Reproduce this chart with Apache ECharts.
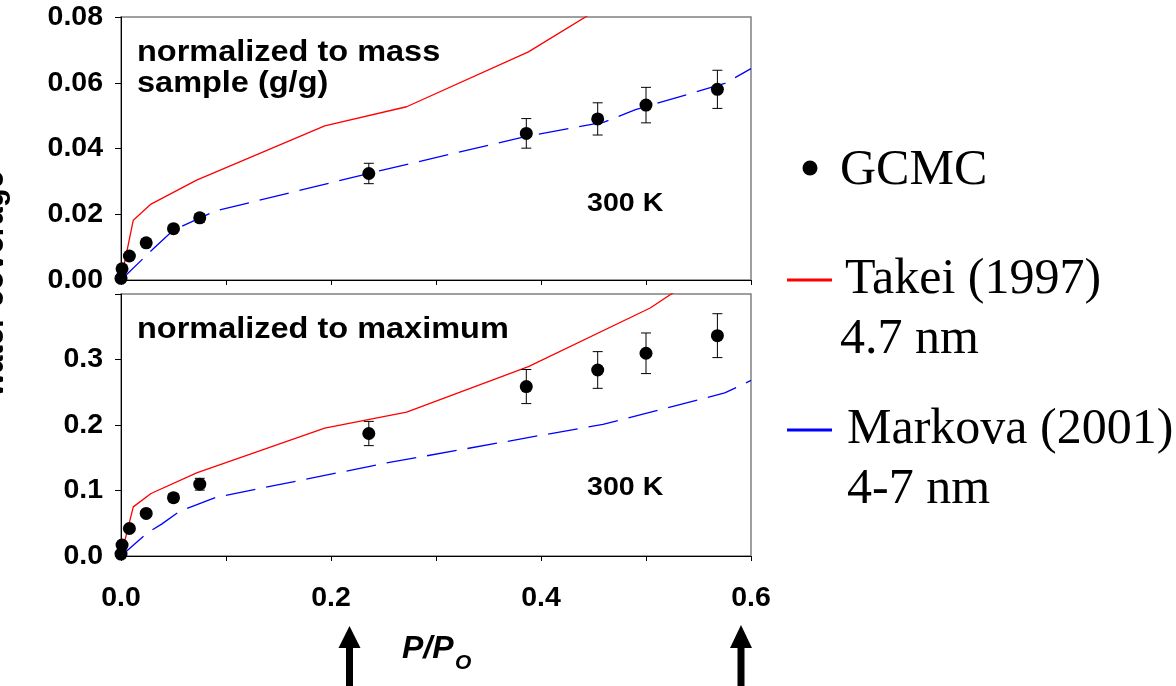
<!DOCTYPE html>
<html><head><meta charset="utf-8">
<script src="https://cdn.jsdelivr.net/npm/echarts@6/dist/echarts.min.js"></script>
<style>html,body{margin:0;padding:0;background:#fff}#c{width:1176px;height:686px}</style>
</head><body><div id="c"></div>
<script>
// ---- data ----
const gcmcX        = [0, 0.001, 0.008, 0.024, 0.05, 0.075, 0.236, 0.386, 0.454, 0.5, 0.568];
const gcmcMass     = [0.0005, 0.0034, 0.0073, 0.0113, 0.0156, 0.0189, 0.0324, 0.0446, 0.049, 0.0532, 0.058];
const gcmcMassErr  = [0, 0, 0, 0, 0.0008, 0.0013, 0.0031, 0.0045, 0.0049, 0.0054, 0.0058];
const gcmcMax      = [0.003, 0.0167, 0.042, 0.065, 0.089, 0.1096, 0.187, 0.2587, 0.284, 0.3095, 0.3364];
const gcmcMaxErr   = [0, 0, 0, 0, 0.006, 0.009, 0.0185, 0.026, 0.028, 0.031, 0.0335];

const takeiMassX   = [0, 0.0117, 0.0286, 0.072, 0.194, 0.272, 0.388, 0.45];
const takeiMass    = [0, 0.0182, 0.0231, 0.0304, 0.0469, 0.0527, 0.0694, 0.0815];
const takeiMaxX    = [0, 0.0117, 0.0286, 0.072, 0.194, 0.272, 0.388, 0.504, 0.54];
const takeiMax     = [0, 0.075, 0.0954, 0.1268, 0.1953, 0.2197, 0.289, 0.3786, 0.417];

const markovaMassX = [0, 0.031, 0.05, 0.09, 0.25, 0.386, 0.46, 0.49, 0.575, 0.6];
const markovaMass  = [0, 0.0096, 0.0152, 0.021, 0.0335, 0.0437, 0.048, 0.0518, 0.0598, 0.0643];
const markovaMaxX  = [0, 0.0244, 0.0387, 0.056, 0.091, 0.253, 0.405, 0.459, 0.575, 0.6];
const markovaMax   = [0, 0.0345, 0.0487, 0.0685, 0.0898, 0.142, 0.1857, 0.2009, 0.249, 0.268];

const xTicks = [0, 0.2, 0.4, 0.6];

// ---- helpers ----
const SANS = 'Liberation Sans, Arial, Helvetica, sans-serif';
const SERIF = 'Liberation Serif, Times New Roman, serif';
const pairs = (xs, ys) => xs.map((x, i) => [x, ys[i]]);
const errData = (xs, ys, es) => xs.map((x, i) => [x, ys[i] - es[i], ys[i] + es[i]]);

function errSeries(ai, data) {
  return {
    type: 'custom', xAxisIndex: ai, yAxisIndex: ai, z: 4, silent: true, clip: false,
    encode: { x: 0, y: [1, 2] },
    renderItem(params, api) {
      const x = api.value(0), lo = api.value(1), hi = api.value(2);
      if (!(hi - lo > 0)) return null;
      const p1 = api.coord([x, lo]), p2 = api.coord([x, hi]);
      const hw = 5, st = { stroke: '#000', lineWidth: 1 };
      return { type: 'group', children: [
        { type: 'line', shape: { x1: p1[0], y1: p1[1], x2: p2[0], y2: p2[1] }, style: st },
        { type: 'line', shape: { x1: p1[0] - hw, y1: p1[1], x2: p1[0] + hw, y2: p1[1] }, style: st },
        { type: 'line', shape: { x1: p2[0] - hw, y1: p2[1], x2: p2[0] + hw, y2: p2[1] }, style: st }
      ]};
    },
    data
  };
}

const labelStyle = { color: '#000', fontFamily: SANS, fontWeight: 'bold', fontSize: 28.5 };
const xBase = {
  type: 'value', min: 0, max: 0.6, interval: 0.1,
  splitLine: { show: false },
  axisLine: { onZero: false, lineStyle: { color: '#000', width: 1 } },
  axisTick: { inside: false, length: 5, lineStyle: { color: '#000', width: 1 } }
};
const yBase = {
  type: 'value',
  splitLine: { show: false },
  axisLine: { show: true, onZero: false, lineStyle: { color: '#000', width: 1 } },
  axisTick: { show: true, inside: false, length: 6, lineStyle: { color: '#000', width: 1 } }
};

const chart = echarts.init(document.getElementById('c'), null, { renderer: 'canvas' });

const txt = (text, x, y, size, opts = {}) => ({
  type: 'text', x, y, scaleX: opts.scaleX || 1, rotation: opts.rotation || 0, z: 10,
  style: {
    text, fontSize: size, fontFamily: opts.family || SANS,
    fontWeight: opts.weight || 'bold', fontStyle: opts.style || 'normal',
    fill: '#000', align: opts.align || 'left', verticalAlign: opts.va || 'middle'
  }
});

chart.setOption({
  animation: false,
  backgroundColor: '#fff',
  grid: [
    { left: 121, top: 17, width: 630, height: 263, show: true, borderColor: '#808080', borderWidth: 1.5, outerBoundsMode: 'none' },
    { left: 121, top: 294, width: 630, height: 262, show: true, borderColor: '#808080', borderWidth: 1.5, outerBoundsMode: 'none' }
  ],
  xAxis: [
    Object.assign({}, xBase, { gridIndex: 0, axisLabel: { show: false } }),
    Object.assign({}, xBase, { gridIndex: 1, axisLabel: Object.assign({}, labelStyle, {
      margin: 28,
      formatter: v => xTicks.some(t => Math.abs(t - v) < 1e-9) ? v.toFixed(1) : ''
    }) })
  ],
  yAxis: [
    Object.assign({}, yBase, { gridIndex: 0, min: 0, max: 0.08, interval: 0.02,
      axisLabel: Object.assign({}, labelStyle, { margin: 18, formatter: v => v.toFixed(2) }) }),
    Object.assign({}, yBase, { gridIndex: 1, min: 0, max: 0.4, interval: 0.1,
      axisLabel: Object.assign({}, labelStyle, { margin: 18, formatter: v => v > 0.35 ? '' : v.toFixed(1) }) })
  ],
  series: [
    { type: 'line', xAxisIndex: 0, yAxisIndex: 0, data: pairs(takeiMassX, takeiMass), showSymbol: false, clip: true,
      lineStyle: { color: '#ff0000', width: 1.3 }, z: 2 },
    { type: 'line', xAxisIndex: 0, yAxisIndex: 0, data: pairs(markovaMassX, markovaMass), showSymbol: false, clip: true,
      lineStyle: { color: '#0000ff', width: 1.3, type: [30, 11] }, z: 2 },
    errSeries(0, errData(gcmcX, gcmcMass, gcmcMassErr)),
    { type: 'scatter', xAxisIndex: 0, yAxisIndex: 0, data: pairs(gcmcX, gcmcMass), symbol: 'circle', symbolSize: 13,
      itemStyle: { color: '#000', opacity: 1 }, clip: false, z: 5 },

    { type: 'line', xAxisIndex: 1, yAxisIndex: 1, data: pairs(takeiMaxX, takeiMax), showSymbol: false, clip: true,
      lineStyle: { color: '#ff0000', width: 1.3 }, z: 2 },
    { type: 'line', xAxisIndex: 1, yAxisIndex: 1, data: pairs(markovaMaxX, markovaMax), showSymbol: false, clip: true,
      lineStyle: { color: '#0000ff', width: 1.3, type: [30, 11] }, z: 2 },
    errSeries(1, errData(gcmcX, gcmcMax, gcmcMaxErr)),
    { type: 'scatter', xAxisIndex: 1, yAxisIndex: 1, data: pairs(gcmcX, gcmcMax), symbol: 'circle', symbolSize: 13,
      itemStyle: { color: '#000', opacity: 1 }, clip: false, z: 5 }
  ],
  graphic: [
    // panel annotations
    txt('normalized to mass', 137, 53, 29, { scaleX: 1.12 }),
    txt('sample (g/g)', 137, 84, 29, { scaleX: 1.12 }),
    txt('300 K', 587, 204, 26, { scaleX: 1.1 }),
    txt('normalized to maximum', 137, 330, 29, { scaleX: 1.12 }),
    txt('300 K', 587, 488, 26, { scaleX: 1.1 }),
    // y-axis title (cut at left edge)
    txt('water coverage', 10, 284, 31, { rotation: Math.PI / 2, align: 'center', va: 'bottom' }),
    // x-axis title
    txt('P/P', 402, 649, 32, { style: 'italic' }),
    txt('O', 455, 663, 21, { style: 'italic' }),
    // arrows
    { type: 'polygon', shape: { points: [[349.5, 626], [338.5, 648], [360.5, 648]] }, style: { fill: '#000' } },
    { type: 'rect', shape: { x: 346, y: 646, width: 7, height: 40 }, style: { fill: '#000' } },
    { type: 'polygon', shape: { points: [[741, 625], [730, 648], [752, 648]] }, style: { fill: '#000' } },
    { type: 'rect', shape: { x: 737.5, y: 646, width: 7, height: 40 }, style: { fill: '#000' } },
    // legend
    { type: 'circle', shape: { cx: 810, cy: 168, r: 7.5 }, style: { fill: '#000' } },
    txt('GCMC', 840, 171, 50, { family: SERIF, weight: 'normal' }),
    { type: 'line', shape: { x1: 787, y1: 280, x2: 832, y2: 280 }, style: { stroke: '#ff0000', lineWidth: 3 } },
    txt('Takei (1997)', 845, 280, 50, { family: SERIF, weight: 'normal' }),
    txt('4.7 nm', 840, 340, 50, { family: SERIF, weight: 'normal' }),
    { type: 'line', shape: { x1: 787, y1: 430, x2: 832, y2: 430 }, style: { stroke: '#0000ff', lineWidth: 3 } },
    txt('Markova (2001)', 847, 430, 50, { family: SERIF, weight: 'normal' }),
    txt('4-7 nm', 847, 490, 50, { family: SERIF, weight: 'normal' })
  ]
});
</script>
</body></html>
